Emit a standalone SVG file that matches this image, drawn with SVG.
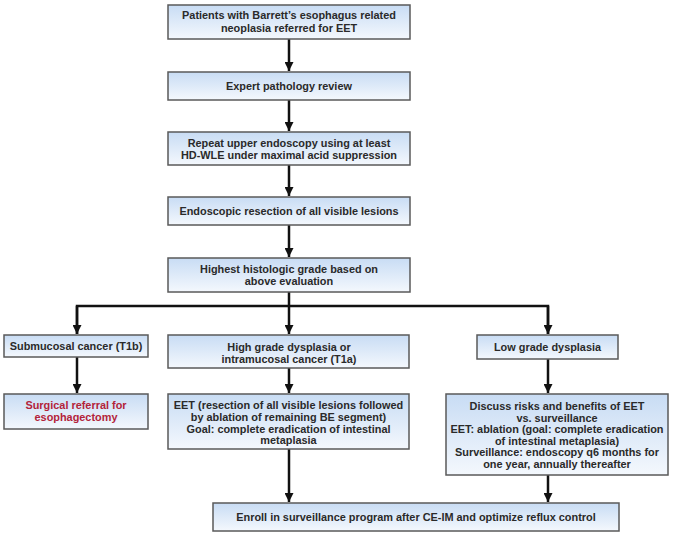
<svg xmlns="http://www.w3.org/2000/svg" width="673" height="536" viewBox="0 0 673 536">
<defs>
<linearGradient id="g" x1="0" y1="0" x2="0" y2="1">
<stop offset="0" stop-color="#c8dcf4"/>
<stop offset="1" stop-color="#f4f8fd"/>
</linearGradient>
<marker id="ah" viewBox="0 0 10 10" refX="10" refY="5" markerWidth="3.8" markerHeight="3.6" orient="auto" markerUnits="strokeWidth">
<path d="M0,0 L10,5 L0,10 z" fill="#111"/>
</marker>
<style>
.box{fill:url(#g);stroke:#5a5a5a;stroke-width:1.5}
text{font-family:"Liberation Sans",Arial,sans-serif;font-size:10.9px;font-weight:bold;fill:#2a2a2a;text-anchor:middle}
.red{fill:#b3233a}
.c{fill:none;stroke:#111;stroke-width:2.5}
.a{fill:none;stroke:#111;stroke-width:2.5;marker-end:url(#ah)}
</style>
</defs>
<rect width="673" height="536" fill="#fff"/>
<g id="connectors">
<line class="a" x1="289" y1="39" x2="289" y2="71"/>
<line class="a" x1="289" y1="100" x2="289" y2="131"/>
<line class="a" x1="289" y1="165" x2="289" y2="196"/>
<line class="a" x1="289" y1="225" x2="289" y2="257"/>
<polyline class="c" points="77,334 77,306 548,306 548,334"/>
<line class="c" x1="289" y1="292" x2="289" y2="306"/>
<line class="a" x1="77" y1="306" x2="77" y2="334"/>
<line class="a" x1="289" y1="306" x2="289" y2="334"/>
<line class="a" x1="548" y1="306" x2="548" y2="334"/>
<line class="a" x1="77" y1="357" x2="77" y2="393"/>
<line class="a" x1="289" y1="368" x2="289" y2="393"/>
<line class="a" x1="548" y1="359" x2="548" y2="393"/>
<line class="a" x1="289" y1="449" x2="289" y2="502"/>
<line class="a" x1="548" y1="475" x2="548" y2="502"/>
</g>
<g id="n1"><rect class="box" x="168" y="5" width="242" height="34"/>
<text x="289" y="19">Patients with Barrett’s esophagus related</text>
<text x="289" y="31.5">neoplasia referred for EET</text></g>
<g id="n2"><rect class="box" x="168" y="72" width="242" height="28"/>
<text x="289" y="90">Expert pathology review</text></g>
<g id="n3"><rect class="box" x="168" y="132" width="242" height="33"/>
<text x="289" y="147">Repeat upper endoscopy using at least</text>
<text x="289" y="159">HD-WLE under maximal acid suppression</text></g>
<g id="n4"><rect class="box" x="168" y="197" width="242" height="28"/>
<text x="289" y="215">Endoscopic resection of all visible lesions</text></g>
<g id="n5"><rect class="box" x="168" y="258" width="242" height="34"/>
<text x="289" y="273">Highest histologic grade based on</text>
<text x="289" y="285">above evaluation</text></g>
<g id="n6"><rect class="box" x="4" y="335" width="144" height="22"/>
<text x="76" y="350">Submucosal cancer (T1b)</text></g>
<g id="n7"><rect class="box" x="168" y="335" width="241" height="33"/>
<text x="289" y="351">High grade dysplasia or</text>
<text x="289" y="362.5">intramucosal cancer (T1a)</text></g>
<g id="n8"><rect class="box" x="477" y="335" width="141" height="24"/>
<text x="547.5" y="351">Low grade dysplasia</text></g>
<g id="n9"><rect class="box" x="4" y="394" width="144" height="35"/>
<text class="red" x="76" y="409">Surgical referral for</text>
<text class="red" x="76" y="421">esophagectomy</text></g>
<g id="n10"><rect class="box" x="168" y="394" width="241" height="55"/>
<text x="288.5" y="409">EET (resection of all visible lesions followed</text>
<text x="288.5" y="421">by ablation of remaining BE segment)</text>
<text x="288.5" y="432.5">Goal: complete eradication of intestinal</text>
<text x="288.5" y="444">metaplasia</text></g>
<g id="n11"><rect class="box" x="446" y="394" width="222" height="81"/>
<text x="557" y="410">Discuss risks and benefits of EET</text>
<text x="557" y="421.5">vs. surveillance</text>
<text x="557" y="433">EET: ablation (goal: complete eradication</text>
<text x="557" y="444.5">of intestinal metaplasia)</text>
<text x="557" y="456">Surveillance: endoscopy q6 months for</text>
<text x="557" y="467.5">one year, annually thereafter</text></g>
<g id="n12"><rect class="box" x="213" y="503" width="406" height="28"/>
<text x="416" y="521">Enroll in surveillance program after CE-IM and optimize reflux control</text></g>
</svg>
